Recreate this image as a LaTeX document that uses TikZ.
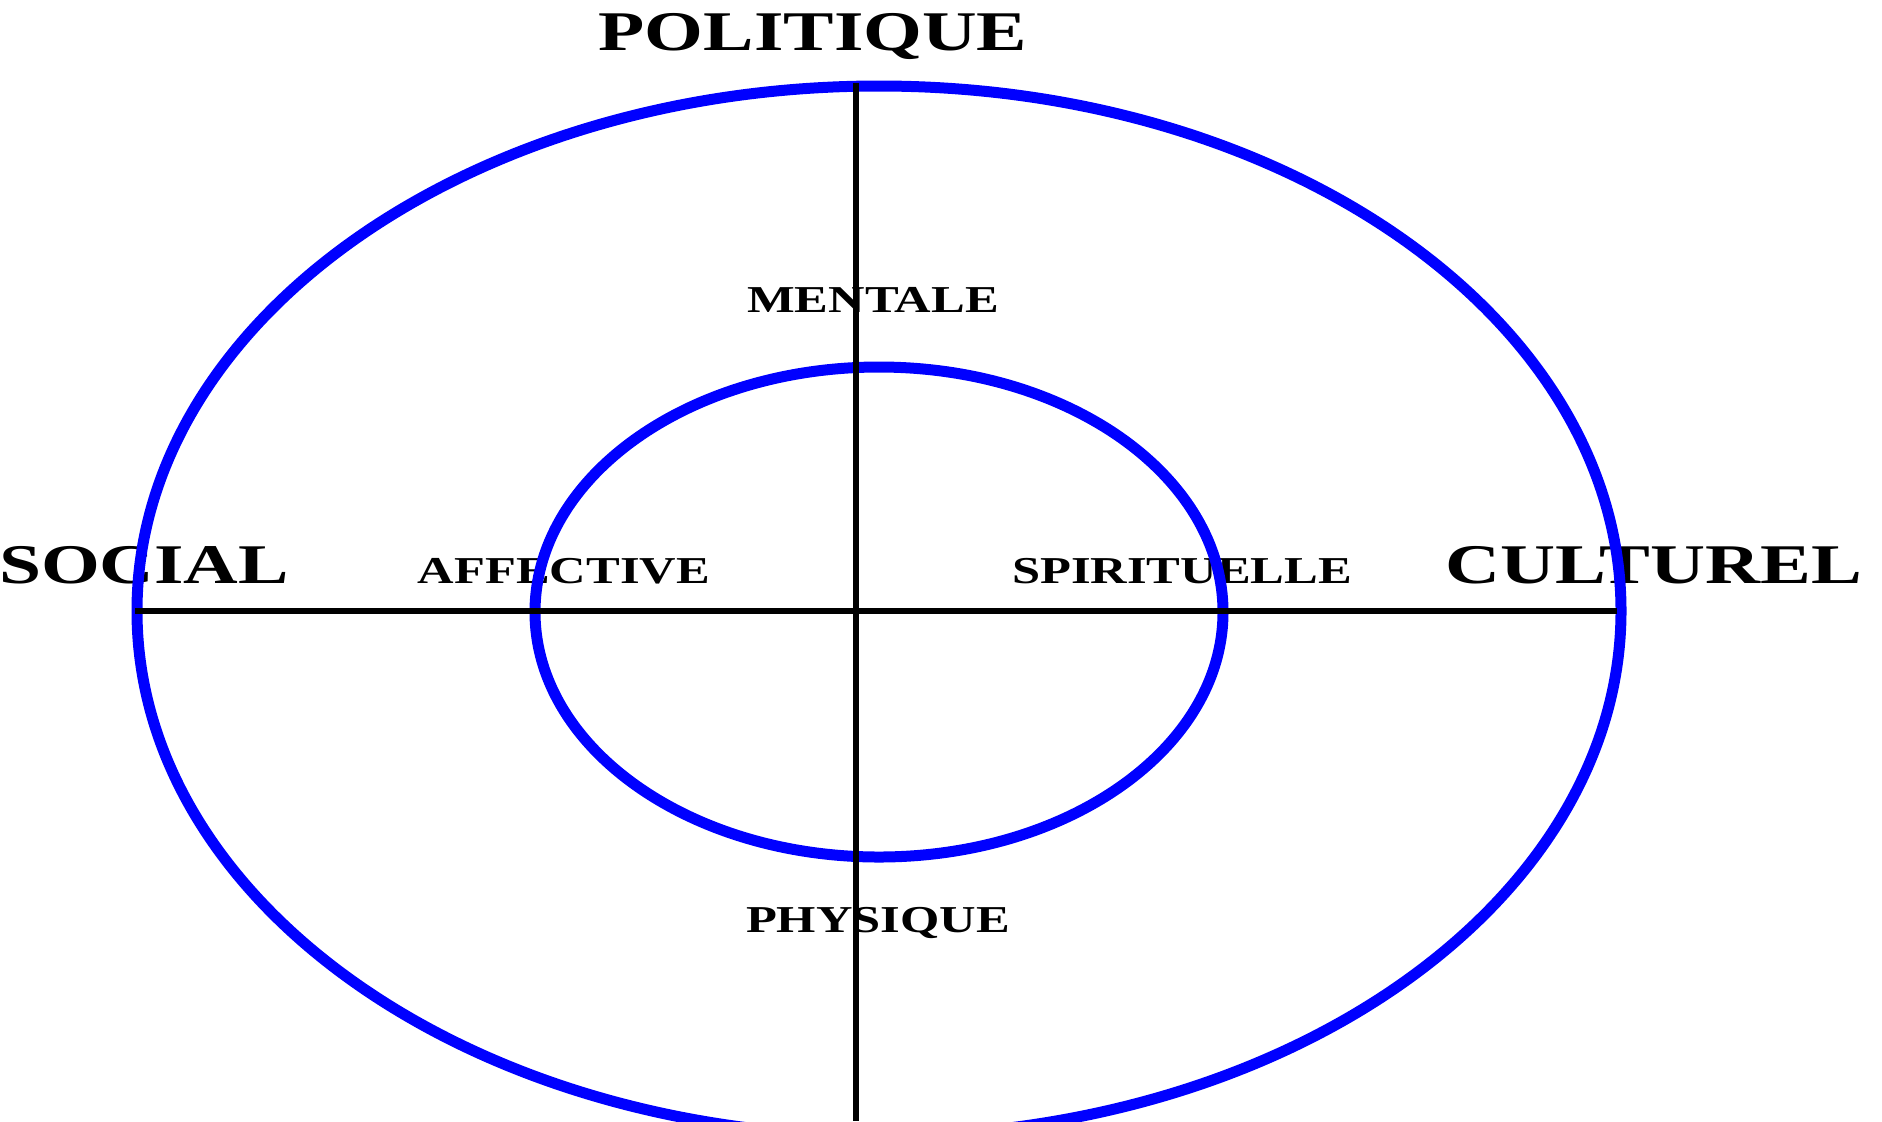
\documentclass[tikz,border=0pt]{standalone}
\usepackage{fontspec}
\setmainfont{Liberation Serif}
\begin{document}
\begin{tikzpicture}[x=0.5pt, y=-0.5pt,
  anneau/.style={line width=5.5pt, draw=blue},
  axe/.style={line width=3.2pt, draw=black},
  grand/.style={anchor=base, inner sep=0pt, font=\fontsize{28}{28}\selectfont\bfseries},
  petit/.style={anchor=base, inner sep=0pt, font=\fontsize{19}{19}\selectfont\bfseries}]
% Cadre
\clip (0,0) rectangle (1882,1121);
\useasboundingbox (0,0) rectangle (1882,1121);

% Etiquettes
\node [grand] (politique) at (813,50) {\scalebox{1.35}[1]{POLITIQUE}};
\node [grand] (social) at (144,583) {\scalebox{1.35}[1]{SOCIAL}};
\node [grand] (culturel) at (1654,583) {\scalebox{1.36}[1]{CULTUREL}};
\node [petit] (mentale) at (873,312) {\scalebox{1.33}[1]{MENTALE}};
\node [petit] (affective) at (564,583) {\scalebox{1.33}[1]{AFFECTIVE}};
\node [petit] (spirituelle) at (1182,583) {\scalebox{1.33}[1]{SPIRITUELLE}};
\node [petit] (physique) at (878,932) {\scalebox{1.33}[1]{PHYSIQUE}};

% Anneaux
\draw [anneau] (879,611) ellipse [x radius=742, y radius=525];
\draw [anneau] (879,612) ellipse [x radius=344, y radius=245];

% Axes
\coordinate (haut) at (856,83);
\coordinate (bas) at (856,1121);
\coordinate (gauche) at (135,611);
\coordinate (droite) at (1617,611);
\draw [axe] (haut) -- (bas);
\draw [axe] (gauche) -- (droite);
\end{tikzpicture}
\end{document}
